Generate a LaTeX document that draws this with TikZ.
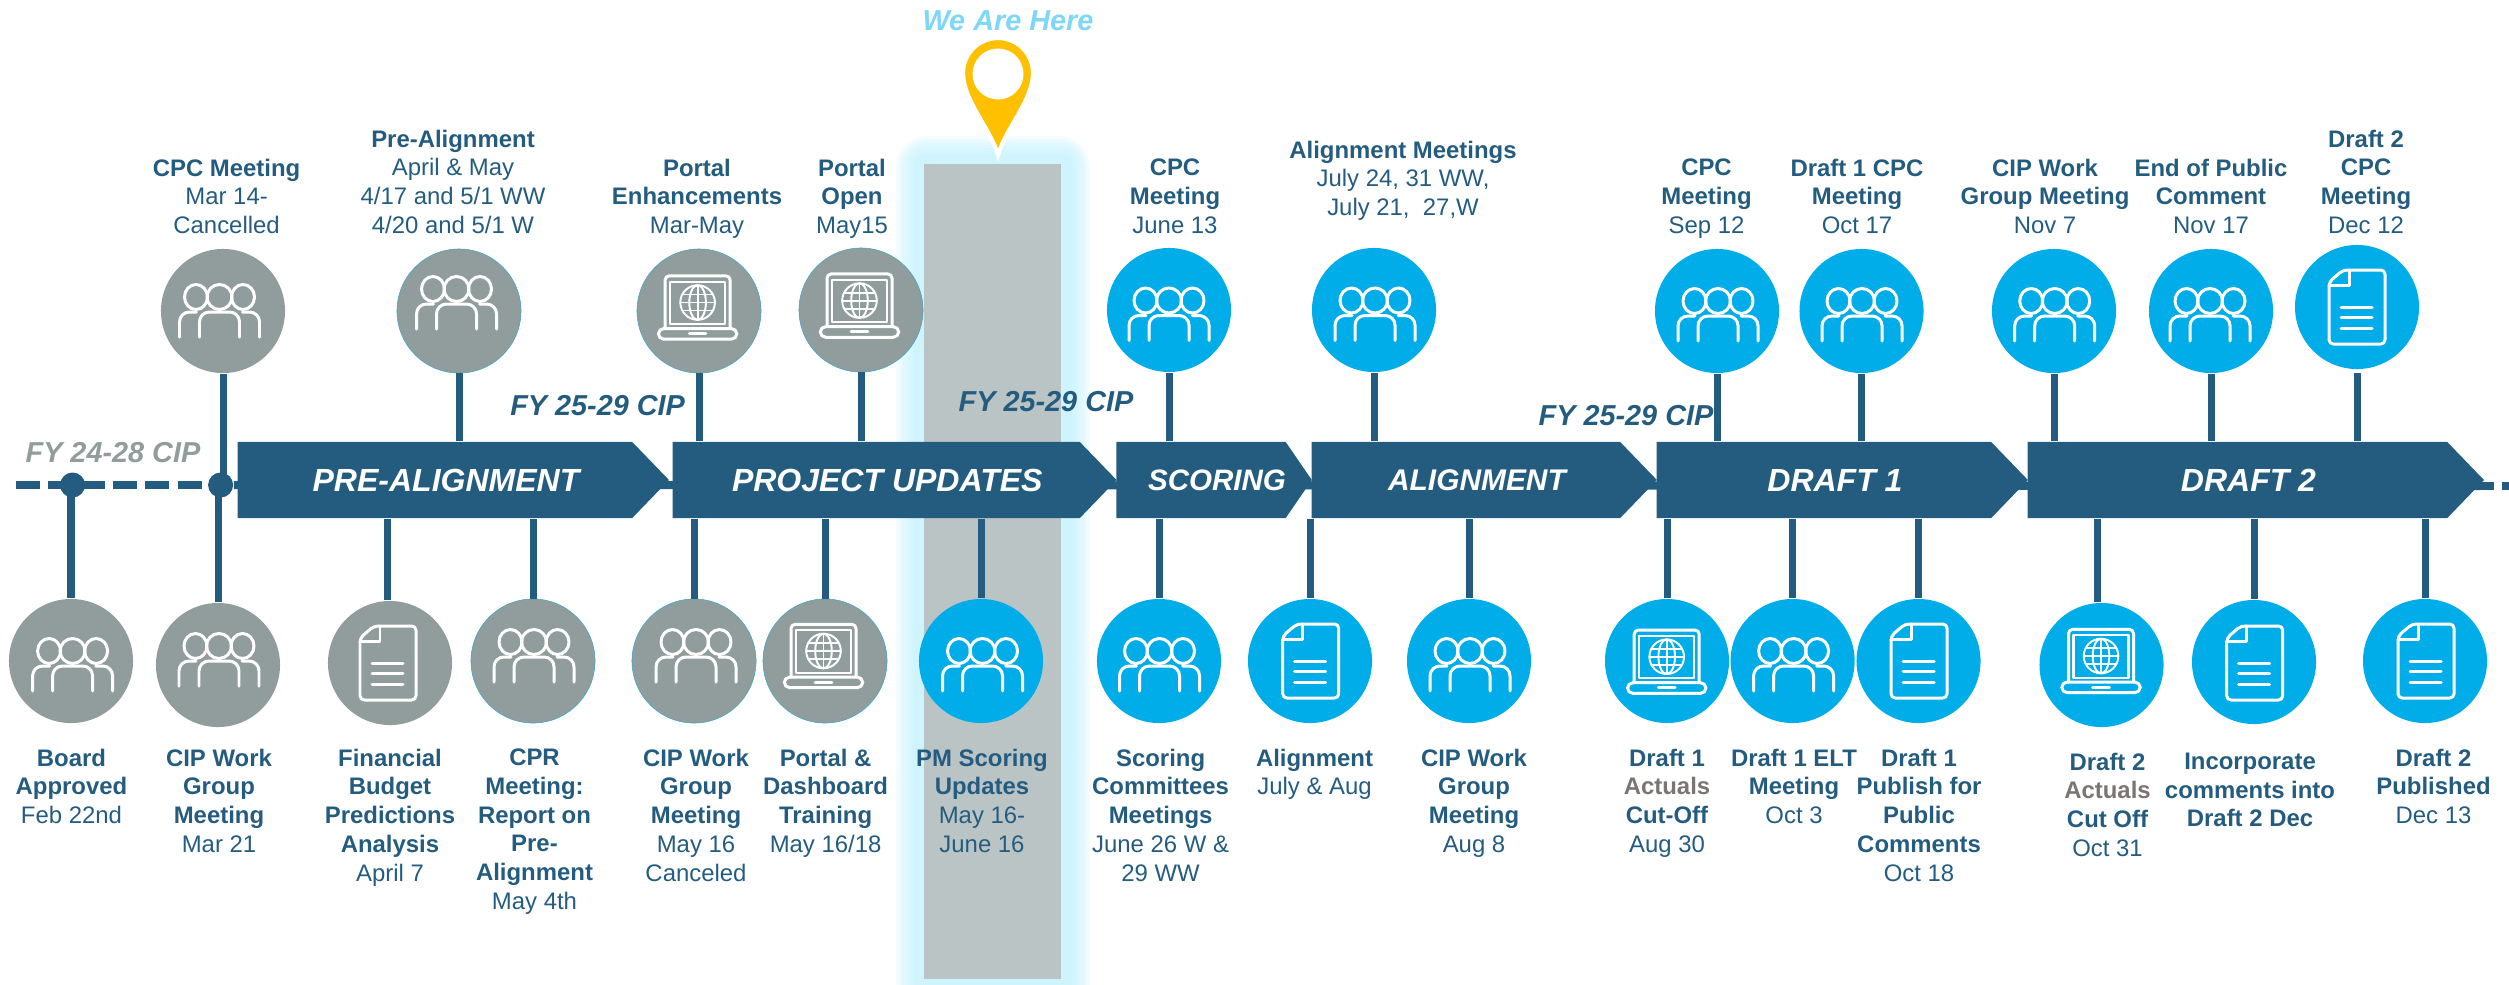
\documentclass[tikz,border=0pt]{standalone}
\usepackage{fontspec}
\setmainfont{Liberation Sans}
\usetikzlibrary{shapes.symbols}

\definecolor{navy}{HTML}{245C80}
\definecolor{past}{HTML}{909D9C}
\definecolor{sky}{HTML}{00ADE9}
\definecolor{band}{HTML}{BAC4C4}
\definecolor{halo}{HTML}{C4F1FC}
\definecolor{pin}{HTML}{FFC000}
\definecolor{hereblue}{HTML}{7FD7F7}
\definecolor{actual}{HTML}{7A7573}

\tikzset{
  phase/.style={signal, signal to=east, signal from=nowhere, signal pointer angle=92,
    fill=navy, text=white, inner sep=0pt, minimum height=.76cm, anchor=west,
    font=\fontsize{9.1}{11}\selectfont\bfseries\itshape,
    execute at begin node=\hspace*{.22cm}},
  stem/.style={draw=navy, line width=.07cm},
  dash line/.style={draw=navy, line width=.08cm},
  dot/.style={circle, fill=navy, inner sep=0pt, minimum size=.25cm},
  done/.style={circle, fill=past, inner sep=0pt, minimum size=1.24cm},
  doneline/.style={done, draw=sky!60!past, line width=.15pt},
  todo/.style={circle, fill=sky, inner sep=0pt, minimum size=1.24cm},
  lbl/.style={anchor=north, align=center, text=navy, inner sep=0pt,
    font=\fontsize{6.8}{8.2}\selectfont, execute at begin node=\strut},
  fy/.style={text=navy, inner sep=0pt, font=\fontsize{8.2}{10}\selectfont\bfseries\itshape},
  icon/.style={draw=white, line width=.85pt, line cap=round, line join=round},
  pics/people/.style={code={
    \draw[icon] (-23.5,-13) circle[x radius=11.5, y radius=12.5];
    \draw[icon] (23.5,-13) circle[x radius=11.5, y radius=12.5];
    \draw[icon] (0,-13) circle[radius=12.5];
    \draw[icon, rounded corners=2.8pt] (-20,27) -- (-20,2) -- (20,2) -- (20,27);
    \draw[icon, rounded corners=2.8pt] (-40,27) -- (-40,2) -- (-23,2);
    \draw[icon, rounded corners=2.8pt] (40,27) -- (40,2) -- (23,2);
  }},
  pics/paper/.style={code={
    \draw[icon, rounded corners=1.2pt] (-14,-37) -- (28,-37) -- (28,37) -- (-28,37) -- (-28,-25) -- cycle;
    \draw[icon] (-28,-22) -- (-8,-22) -- (-8,-37);
    \draw[icon] (-16,0) -- (15,0);
    \draw[icon] (-16,10.5) -- (15,10.5);
    \draw[icon] (-16,21) -- (15,21);
  }},
  pics/laptop/.style={code={
    \draw[icon, rounded corners=1.2pt] (-32.5,21) -- (-32.5,-31.7) -- (32.5,-31.7) -- (32.5,21);
    \draw[icon, line width=.6pt] (-27.5,-25.7) rectangle (27.5,16.7);
    \draw[icon, rounded corners=1.6pt] (-39.3,21) -- (39.3,21) -- (39.3,31.7) -- (-39.3,31.7) -- cycle;
    \draw[icon] (-8.3,26) -- (8.3,26);
    \draw[icon, line width=.55pt] (0,-5) circle[radius=17.3];
    \draw[icon, line width=.55pt] (0,-5) circle[x radius=8.3, y radius=17.3];
    \draw[icon, line width=.55pt] (0,-22.3) -- (0,12.3);
    \draw[icon, line width=.55pt] (-17.3,-5) -- (17.3,-5);
    \draw[icon, line width=.55pt] (-15.3,-13) -- (15.3,-13);
    \draw[icon, line width=.55pt] (-15.3,3) -- (15.3,3);
  }}
}

\begin{document}
\begin{tikzpicture}[x=.01cm, y=-.01cm]
\useasboundingbox (0,0) rectangle (2509,984);

\fill[halo, opacity=.2, rounded corners=9pt] (896,136) rectangle (1090,1020);
\fill[halo, opacity=.2, rounded corners=8pt] (899,139) rectangle (1087,1020);
\fill[halo, opacity=.2, rounded corners=7pt] (902,142) rectangle (1084,1020);
\fill[halo, opacity=.2, rounded corners=6pt] (905,145) rectangle (1081,1020);
\fill[halo, opacity=.2, rounded corners=5pt] (908,148) rectangle (1078,1020);
\fill[halo, opacity=.2, rounded corners=4pt] (911,151) rectangle (1075,1020);
\fill[halo, opacity=.2, rounded corners=3pt] (914,154) rectangle (1072,1020);
\fill[band] (924,164) rectangle (1061,979);

\draw[pin, fill=pin, draw=white, line width=1.2pt] (998,155) .. controls (990,128) and (963,100) .. (963,73) arc[start angle=180, end angle=360, radius=35] .. controls (1033,100) and (1006,128) .. (998,155) -- cycle;
\fill[white] (998,74) circle[radius=25.5];

\node[text=hereblue, inner sep=0pt, font=\fontsize{8.2}{10}\selectfont\bfseries\itshape] (here) at (1008,21) {We Are Here};

\coordinate (oldstart) at (16,485);
\coordinate (newstart) at (2480,486);
\coordinate (newend) at (2509,486);
\node[dot] (oldboard) at (72.6,485) {};
\node[dot] (oldcip) at (220.6,485) {};

\draw[dash line, dash pattern=on .24cm off .083cm] (oldstart) -- (oldcip);
\draw[dash line] (oldcip) -- (newstart);
\draw[dash line, dash pattern=on .14cm off .08cm] (newstart) -- (newend);

\node[phase, minimum width=4.31cm] (prealign) at (237,480) {PRE-ALIGNMENT};
\node[phase, minimum width=4.436cm] (updates) at (672,480) {PROJECT UPDATES};
\node[phase, minimum width=1.954cm, signal pointer angle=111, font=\fontsize{8.4}{11}\selectfont\bfseries\itshape, execute at begin node=\hspace*{.10cm}] (scoring) at (1115.6,480) {\makebox[0pt]{SCORING}};
\node[phase, minimum width=3.45cm, font=\fontsize{8.5}{11}\selectfont\bfseries\itshape] (alignment) at (1311,480) {ALIGNMENT};
\node[phase, minimum width=3.71cm] (draftone) at (1656,480) {DRAFT 1};
\node[phase, minimum width=4.56cm] (drafttwo) at (2027,480) {DRAFT 2};

\node[done] (cpcmar) at (223,311) {};
\node[doneline] (prealmeet) at (459,311) {};
\node[doneline] (enhance) at (699,311) {};
\node[doneline] (open) at (861,310) {};
\node[todo] (cpcjun) at (1169,310) {};
\node[todo] (almeet) at (1374,310) {};
\node[todo] (cpcsep) at (1717,311) {};
\node[todo] (cpcoct) at (1861.5,311) {};
\node[todo] (cipnov) at (2054,311) {};
\node[todo] (endpub) at (2211,311) {};
\node[todo] (cpcdec) at (2357,307) {};

\node[done] (board) at (71,661) {};
\node[done] (cipmar) at (218,665) {};
\node[done] (finance) at (390,663) {};
\node[doneline] (cpr) at (533,661) {};
\node[doneline] (cipmay) at (694,661) {};
\node[doneline] (train) at (825,661) {};
\node[todo] (pmscore) at (981,661) {};
\node[todo] (scoremeet) at (1159,661) {};
\node[todo] (aldoc) at (1310,661) {};
\node[todo] (cipaug) at (1469,661) {};
\node[todo] (actone) at (1667,661) {};
\node[todo] (elt) at (1792.6,661) {};
\node[todo] (publish) at (1918.5,661) {};
\node[todo] (acttwo) at (2101.5,665) {};
\node[todo] (merge) at (2254,662) {};
\node[todo] (published) at (2425,661) {};

\draw[stem] (cpcmar) -- (cpcmar |- oldcip);
\draw[stem] (prealmeet) -- (prealmeet |- prealign.north);
\draw[stem] (enhance) -- (enhance |- updates.north);
\draw[stem] (open) -- (open |- updates.north);
\draw[stem] (cpcjun) -- (cpcjun |- scoring.north);
\draw[stem] (almeet) -- (almeet |- alignment.north);
\draw[stem] (cpcsep) -- (cpcsep |- draftone.north);
\draw[stem] (cpcoct) -- (cpcoct |- draftone.north);
\draw[stem] (cipnov) -- (cipnov |- drafttwo.north);
\draw[stem] (endpub) -- (endpub |- drafttwo.north);
\draw[stem, shorten <=1pt] (cpcdec) -- (cpcdec |- drafttwo.north);

\draw[stem] (board) -- (board |- oldboard);
\draw[stem] (cipmar) -- (cipmar |- oldcip);
\draw[stem] ([xshift=-.025cm]finance.north) -- ([xshift=-.025cm]finance.north |- prealign.south);
\draw[stem] (cpr) -- (cpr |- prealign.south);
\draw[stem] (cipmay) -- (cipmay |- updates.south);
\draw[stem] (train) -- (train |- updates.south);
\draw[stem] (pmscore) -- (pmscore |- updates.south);
\draw[stem] (scoremeet) -- (scoremeet |- scoring.south);
\draw[stem] (aldoc) -- (aldoc |- alignment.south);
\draw[stem] (cipaug) -- (cipaug |- alignment.south);
\draw[stem] (actone) -- (actone |- draftone.south);
\draw[stem] (elt) -- (elt |- draftone.south);
\draw[stem] (publish) -- (publish |- draftone.south);
\draw[stem] ([xshift=-.045cm]acttwo.north) -- ([xshift=-.045cm]acttwo.north |- drafttwo.south);
\draw[stem] (merge) -- (merge |- drafttwo.south);
\draw[stem] (published) -- (published |- drafttwo.south);

\pic at (219.5,310) {people};
\pic at (456.5,302) {people};
\pic at (697.6,307.5) {laptop};
\pic at (859.5,305.6) {laptop};
\pic at (1169,313.5) {people};
\pic at (1375,313.5) {people};
\pic at (1718,314) {people};
\pic at (1862,314) {people};
\pic at (2054.7,314) {people};
\pic at (2210,314) {people};
\pic at (2357,307) {paper};

\pic at (72.6,664) {people};
\pic at (219,659) {people};
\pic at (388,663) {paper};
\pic at (534,655) {people};
\pic at (696,655) {people};
\pic at (823.5,656) {laptop};
\pic at (982.5,664) {people};
\pic at (1159.5,664) {people};
\pic at (1310.7,661) {paper};
\pic at (1470,664) {people};
\pic at (1666.7,661.7) {laptop};
\pic at (1793.6,664) {people};
\pic at (1919,661) {paper};
\pic at (2101,661) {laptop};
\pic at (2254.7,663) {paper};
\pic at (2426,661) {paper};

\node[fy, text=past] (fyold) at (113,453) {FY 24-28 CIP};
\node[fy] (fynewa) at (597.6,406) {FY 25-29 CIP};
\node[fy] (fynewb) at (1046,402) {FY 25-29 CIP};
\node[fy] (fynewc) at (1626,416) {FY 25-29 CIP};

\node[lbl] (tcpcmar) at (226.6,158) {\textbf{CPC Meeting}\\Mar 14-\\Cancelled};
\node[lbl] (tprealmeet) at (453,129) {\textbf{Pre-Alignment}\\April \& May\\4/17 and 5/1 WW\\4/20 and 5/1 W};
\node[lbl] (tenhance) at (697,158) {\textbf{Portal}\\\textbf{Enhancements}\\Mar-May};
\node[lbl] (topen) at (852,158) {\textbf{Portal}\\\textbf{Open}\\May15};
\node[lbl] (tcpcjun) at (1175,158) {\textbf{CPC}\\\textbf{Meeting}\\June 13};
\node[lbl] (talmeet) at (1403,140) {\textbf{Alignment Meetings}\\July 24, 31 WW,\\July 21,~ 27,W};
\node[lbl] (tcpcsep) at (1706.5,158) {\textbf{CPC}\\\textbf{Meeting}\\Sep 12};
\node[lbl] (tcpcoct) at (1857,158) {\textbf{Draft 1 CPC}\\\textbf{Meeting}\\Oct 17};
\node[lbl] (tcipnov) at (2045,158) {\textbf{CIP Work}\\\textbf{Group Meeting}\\Nov 7};
\node[lbl] (tendpub) at (2211,158) {\textbf{End of Public}\\\textbf{Comment}\\Nov 17};
\node[lbl] (tcpcdec) at (2366,129) {\textbf{Draft 2}\\\textbf{CPC}\\\textbf{Meeting}\\Dec 12};

\node[lbl] (tboard) at (71.5,748) {\textbf{Board}\\\textbf{Approved}\\Feb 22nd};
\node[lbl] (tcipmar) at (219,748) {\textbf{CIP Work}\\\textbf{Group}\\\textbf{Meeting}\\Mar 21};
\node[lbl] (tfinance) at (390,748) {\textbf{Financial}\\\textbf{Budget}\\\textbf{Predictions}\\\textbf{Analysis}\\April 7};
\node[lbl] (tcpr) at (534.5,748) {\textbf{CPR}\\\textbf{Meeting:}\\\textbf{Report on}\\\textbf{Pre-}\\\textbf{Alignment}\\May 4th};
\node[lbl] (tcipmay) at (696,748) {\textbf{CIP Work}\\\textbf{Group}\\\textbf{Meeting}\\May 16\\Canceled};
\node[lbl] (ttrain) at (825.6,748) {\textbf{Portal \&}\\\textbf{Dashboard}\\\textbf{Training}\\May 16/18};
\node[lbl] (tpmscore) at (982,748) {\textbf{PM Scoring}\\\textbf{Updates}\\May 16-\\June 16};
\node[lbl] (tscoremeet) at (1160.6,748) {\textbf{Scoring}\\\textbf{Committees}\\\textbf{Meetings}\\June 26 W \&\\29 WW};
\node[lbl] (taldoc) at (1314.5,748) {\textbf{Alignment}\\July \& Aug};
\node[lbl] (tcipaug) at (1474,748) {\textbf{CIP Work}\\\textbf{Group}\\\textbf{Meeting}\\Aug 8};
\node[lbl] (tactone) at (1667,748) {\textbf{Draft 1}\\\textcolor{actual}{\textbf{Actuals}}\\\textbf{Cut-Off}\\Aug 30};
\node[lbl] (telt) at (1794,748) {\textbf{Draft 1 ELT}\\\textbf{Meeting}\\Oct 3};
\node[lbl] (tpublish) at (1919,748) {\textbf{Draft 1}\\\textbf{Publish for}\\\textbf{Public}\\\textbf{Comments}\\Oct 18};
\node[lbl] (tacttwo) at (2107.5,752) {\textbf{Draft 2}\\\textcolor{actual}{\textbf{Actuals}}\\\textbf{Cut Off}\\Oct 31};
\node[lbl] (tmerge) at (2250,752) {\textbf{Incorporate}\\\textbf{comments into}\\\textbf{Draft 2 Dec}};
\node[lbl] (tpublished) at (2433.5,748) {\textbf{Draft 2}\\\textbf{Published}\\Dec 13};
\end{tikzpicture}
\end{document}
